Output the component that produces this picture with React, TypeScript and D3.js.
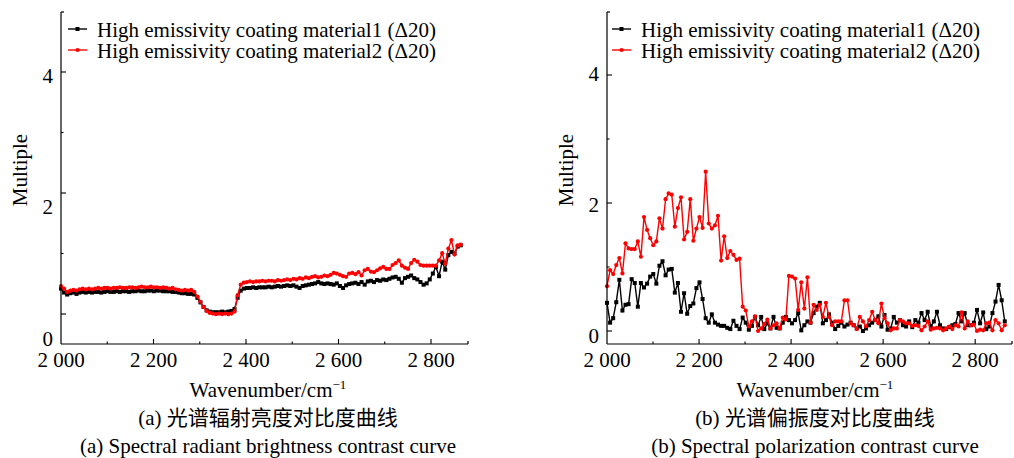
import React from "react";
import * as d3 from "d3";

// ---------- data ----------
const seriesNames = [
  "High emissivity coating material1 (Δ20)",
  "High emissivity coating material2 (Δ20)",
];
const xMajorTicks = [2000, 2200, 2400, 2600, 2800];
const xMinorTicks = [2100, 2300, 2500, 2700];
const yLabelValues = [0, 2, 4];
const yTickValues = [0, 1, 2, 3, 4];
const wavenumberStart = 2000;
const wavenumberStep = 6.7;

// (a) spectral radiant brightness contrast
const radiantMaterial1 = [
  0.76, 0.7, 0.67, 0.69, 0.7, 0.68, 0.7, 0.71, 0.7, 0.71,
  0.7, 0.71, 0.71, 0.7, 0.71, 0.72, 0.71, 0.71, 0.72, 0.71,
  0.72, 0.72, 0.71, 0.72, 0.72, 0.73, 0.72, 0.72, 0.73, 0.73,
  0.72, 0.73, 0.73, 0.72, 0.72, 0.72, 0.71, 0.71, 0.7, 0.69,
  0.69, 0.68, 0.68, 0.67, 0.62, 0.55, 0.48, 0.43, 0.41, 0.4,
  0.4, 0.4, 0.41, 0.4, 0.41, 0.42, 0.45, 0.62, 0.73, 0.76,
  0.77, 0.77, 0.78, 0.77, 0.78, 0.78, 0.78, 0.79, 0.78, 0.79,
  0.8, 0.79, 0.8, 0.81, 0.8, 0.81, 0.79, 0.77, 0.8, 0.81,
  0.82, 0.83, 0.84, 0.86, 0.84, 0.83, 0.84, 0.83, 0.82, 0.84,
  0.8, 0.77, 0.81, 0.83, 0.84, 0.85, 0.83, 0.86, 0.82, 0.87,
  0.88, 0.86, 0.89, 0.88, 0.9, 0.89, 0.91, 0.93, 0.94, 0.91,
  0.85, 0.92, 0.94, 0.96, 0.92, 0.9, 0.86, 0.82, 0.84, 0.9,
  0.99, 1.09, 0.95, 1.17, 1.05, 1.27, 1.32, 1.3, 1.4, 1.42,
];
const radiantMaterial2 = [
  0.8, 0.76, 0.71, 0.73, 0.74, 0.73, 0.75, 0.76, 0.75, 0.76,
  0.75, 0.76, 0.77, 0.76, 0.77, 0.77, 0.76, 0.77, 0.77, 0.78,
  0.77, 0.77, 0.78, 0.78, 0.77, 0.78, 0.79, 0.78, 0.78, 0.79,
  0.78, 0.78, 0.77, 0.78, 0.77, 0.76, 0.77, 0.75, 0.74, 0.73,
  0.74, 0.73, 0.74, 0.71, 0.64, 0.56, 0.48, 0.42, 0.39, 0.38,
  0.37, 0.38, 0.37, 0.38, 0.37, 0.38, 0.41, 0.66, 0.82, 0.85,
  0.86, 0.87, 0.86, 0.87, 0.87, 0.88, 0.87, 0.88, 0.88, 0.87,
  0.89, 0.88, 0.89, 0.9, 0.89, 0.91, 0.9, 0.92, 0.91, 0.93,
  0.92, 0.94, 0.95, 0.93, 0.94, 0.96, 0.95, 0.97, 1.0, 0.99,
  0.97, 0.95, 0.94, 0.99, 1.0, 0.98, 1.01, 0.96, 1.04, 1.06,
  1.02, 1.01, 1.04, 1.07, 1.09, 1.06, 1.06, 1.12, 1.15, 1.19,
  1.11, 1.08, 1.06, 1.15, 1.2, 1.17, 1.12, 1.11, 1.11, 1.11,
  1.11, 1.11, 1.19, 1.3, 1.14, 1.37, 1.5, 1.28, 1.42, 1.43,
];

// (b) spectral polarization contrast
const polarMaterial1 = [
  0.44, 0.13, 0.2, 0.45, 0.8, 0.32, 0.41, 0.42, 0.81, 0.75,
  0.38, 0.75, 0.68, 0.74, 0.85, 0.89, 0.74, 1.02, 1.09, 0.87,
  0.96, 0.97, 0.6, 0.75, 0.3, 0.59, 0.27, 0.39, 0.43, 0.67,
  0.76, 0.5, 0.2, 0.13, 0.26, 0.13, 0.1, 0.08, 0.08, 0.05,
  0.03, 0.16, 0.08, 0.03, 0.21, 0.13, 0.02, 0.08, 0.22, 0.09,
  0.22, 0.03, 0.12, 0.04, 0.22, 0.05, 0.04, 0.13, 0.22, 0.17,
  0.12, 0.17, 0.28, 0.01, 0.09, 0.15, 0.13, 0.28, 0.38, 0.44,
  0.12, 0.17, 0.26, 0.13, 0.03, 0.08, 0.13, 0.07, 0.1, 0.13,
  0.09, 0.04, 0.07, 0.0, 0.04, 0.09, 0.13, 0.17, 0.23, 0.07,
  0.25, 0.02, 0.04, 0.22, 0.13, 0.17, 0.09, 0.07, 0.15, 0.06,
  0.17, 0.13, 0.28, 0.17, 0.3, 0.07, 0.15, 0.3, 0.09, 0.04,
  0.03, 0.06, 0.09, 0.11, 0.28, 0.15, 0.28, 0.09, 0.09, 0.13,
  0.33, 0.12, 0.29, 0.03, 0.07, 0.28, 0.46, 0.72, 0.48, 0.15,
];
const polarMaterial2 = [
  0.7, 0.95, 0.89, 1.03, 1.14, 0.9, 1.37, 1.29, 1.28, 1.28,
  1.4, 1.16, 1.78, 1.58, 1.45, 1.34, 1.4, 1.76, 1.6, 2.06,
  2.15, 2.13, 1.63, 1.92, 2.09, 1.43, 1.55, 2.06, 1.41, 1.6,
  1.78, 1.61, 2.49, 1.68, 1.6, 1.65, 1.8, 1.1, 1.48, 1.14,
  1.25, 1.19, 1.11, 1.13, 0.38, 0.32, 0.07, 0.15, 0.23, 0.0,
  0.04, 0.11, 0.18, 0.04, 0.09, 0.12, 0.04, 0.21, 0.18, 0.86,
  0.85, 0.82, 0.33, 0.76, 0.35, 0.84, 0.13, 0.41, 0.33, 0.41,
  0.22, 0.44, 0.22, 0.09, 0.15, 0.15, 0.15, 0.48, 0.48, 0.12,
  0.09, 0.03, 0.22, 0.15, 0.07, 0.17, 0.3, 0.17, 0.12, 0.43,
  0.2, 0.12, 0.01, 0.04, 0.04, 0.17, 0.15, 0.12, 0.12, 0.08,
  0.09, 0.08, 0.01, 0.07, 0.15, 0.02, 0.04, 0.05, 0.04, 0.01,
  0.04, 0.07, 0.03, 0.09, 0.07, 0.29, 0.04, 0.15, 0.09, 0.1,
  0.0, 0.02, 0.01, 0.12, 0.13, 0.01, 0.17, 0.12, 0.01, 0.09,
];

// ---------- rendering ----------
const SERIF = "'Liberation Serif', 'Times New Roman', serif";
const CJK = "'Noto Sans CJK SC', 'Noto Sans CJK JP', sans-serif";
const RED = "#ff0000";
const BLACK = "#000000";
const FS = 21;
const SQ = 4;
const CR = 2.1;

const fmt = (v: number) => d3.format(",")(v).replace(",", " ");

type PanelProps = {
  s1: number[];
  s2: number[];
  xRange: [number, number];
  dataRange: [number, number];
  tickRange: [number, number];
  labelRange: [number, number];
  yTop: number;
  xAxisY: number;
  yTitleX: number;
  legendX: number;
  centerX: number;
  captionZh: string;
  captionEn: string;
};

function Panel(p: PanelProps) {
  const x = d3.scaleLinear().domain([2000, 2880]).range(p.xRange);
  const yData = d3.scaleLinear().domain([0, 4]).range(p.dataRange);
  const yTick = d3.scaleLinear().domain([0, 4]).range(p.tickRange);
  const yLabel = d3.scaleLinear().domain([0, 4]).range(p.labelRange);
  const wn = p.s1.map((_, i) => wavenumberStart + wavenumberStep * i);
  const line = d3
    .line<number>()
    .x((_, i) => x(wn[i]))
    .y((d) => yData(d));
  const ax0 = p.xRange[0];
  const ax1 = p.xRange[1];
  return (
    <g>
      {/* series 1 (black squares) */}
      <path d={line(p.s1) || ""} fill="none" stroke={BLACK} strokeWidth={1.4} />
      {p.s1.map((d, i) => (
        <rect key={"a" + i} x={x(wn[i]) - SQ / 2} y={yData(d) - SQ / 2} width={SQ} height={SQ} fill={BLACK} />
      ))}
      {/* series 2 (red circles) */}
      <path d={line(p.s2) || ""} fill="none" stroke={RED} strokeWidth={1.4} />
      {p.s2.map((d, i) => (
        <circle key={"b" + i} cx={x(wn[i])} cy={yData(d)} r={CR} fill={RED} />
      ))}

      {/* axes */}
      <line x1={ax0} x2={ax0} y1={p.yTop} y2={p.xAxisY} stroke={BLACK} strokeWidth={1.2} />
      <line x1={ax0} x2={ax0 + 3} y1={p.yTop} y2={p.yTop} stroke={BLACK} strokeWidth={1.2} />
      <line x1={ax0} x2={ax1} y1={p.xAxisY} y2={p.xAxisY} stroke={BLACK} strokeWidth={1.2} />
      <line x1={ax1} x2={ax1} y1={p.xAxisY} y2={p.xAxisY - 3} stroke={BLACK} strokeWidth={1.2} />
      {xMajorTicks.slice(1).map((t) => (
        <line key={"xm" + t} x1={x(t)} x2={x(t)} y1={p.xAxisY} y2={p.xAxisY - 5} stroke={BLACK} strokeWidth={1.1} />
      ))}
      {xMinorTicks.map((t) => (
        <line key={"xn" + t} x1={x(t)} x2={x(t)} y1={p.xAxisY} y2={p.xAxisY - 2.5} stroke={BLACK} strokeWidth={1.1} />
      ))}
      {yTickValues.map((t) => (
        <line
          key={"yt" + t}
          x1={ax0}
          x2={ax0 + (t % 2 === 0 ? 5 : 2.5)}
          y1={yTick(t)}
          y2={yTick(t)}
          stroke={BLACK}
          strokeWidth={1.1}
        />
      ))}
      {xMajorTicks.map((t) => (
        <text key={"xl" + t} x={x(t)} y={p.xAxisY + 23} textAnchor="middle" fontFamily={SERIF} fontSize={FS}>
          {fmt(t)}
        </text>
      ))}
      {yLabelValues.map((t) => (
        <text key={"yl" + t} x={ax0 - 8} y={yLabel(t)} dy="0.34em" textAnchor="end" fontFamily={SERIF} fontSize={FS}>
          {t}
        </text>
      ))}

      {/* titles */}
      <text
        transform={`translate(${p.yTitleX},170) rotate(-90)`}
        textAnchor="middle"
        dy="0.33em"
        fontFamily={SERIF}
        fontSize={FS}
      >
        Multiple
      </text>
      <text x={p.centerX} y={397} textAnchor="middle" fontFamily={SERIF} fontSize={FS}>
        Wavenumber/cm
        <tspan dy={-8} fontSize={13}>
          −1
        </tspan>
      </text>
      <text x={p.centerX} y={425} textAnchor="middle" fontSize={FS}>
        <tspan fontFamily={SERIF}>{p.captionZh.slice(0, 4)}</tspan>
        <tspan fontFamily={CJK}>{p.captionZh.slice(4)}</tspan>
      </text>
      <text x={p.centerX} y={453} textAnchor="middle" fontFamily={SERIF} fontSize={FS}>
        {p.captionEn}
      </text>

      {/* legend */}
      {seriesNames.map((name, i) => {
        const ly = 29 + i * 21;
        const col = i === 0 ? BLACK : RED;
        return (
          <g key={"lg" + i}>
            <line x1={p.legendX} x2={p.legendX + 19} y1={ly} y2={ly} stroke={col} strokeWidth={1.4} />
            {i === 0 ? (
              <rect x={p.legendX + 9.5 - SQ / 2} y={ly - SQ / 2} width={SQ} height={SQ} fill={col} />
            ) : (
              <circle cx={p.legendX + 9.5} cy={ly} r={CR} fill={col} />
            )}
            <text x={p.legendX + 29} y={ly + 4.5} dy="0.18em" fontFamily={SERIF} fontSize={FS}>
              {name}
            </text>
          </g>
        );
      })}
    </g>
  );
}

export default function App() {
  return (
    <svg
      width={1014}
      height={458}
      viewBox="0 0 1014 458"
      style={{ position: "absolute", left: 0, top: 0, background: "#fff" }}
    >
      <rect width={1014} height={458} fill="#fff" />
      <Panel
        s1={radiantMaterial1}
        s2={radiantMaterial2}
        xRange={[61, 468]}
        dataRange={[338.5, 76]}
        tickRange={[314, 72]}
        labelRange={[338.5, 76]}
        yTop={12}
        xAxisY={344}
        yTitleX={20}
        legendX={68}
        centerX={268}
        captionZh="(a) 光谱辐射亮度对比度曲线"
        captionEn="(a) Spectral radiant brightness contrast curve"
      />
      <Panel
        s1={polarMaterial1}
        s2={polarMaterial2}
        xRange={[607, 1012]}
        dataRange={[331, 75]}
        tickRange={[331, 75]}
        labelRange={[336, 74]}
        yTop={12}
        xAxisY={344}
        yTitleX={566}
        legendX={612}
        centerX={815}
        captionZh="(b) 光谱偏振度对比度曲线"
        captionEn="(b) Spectral polarization contrast curve"
      />
    </svg>
  );
}
